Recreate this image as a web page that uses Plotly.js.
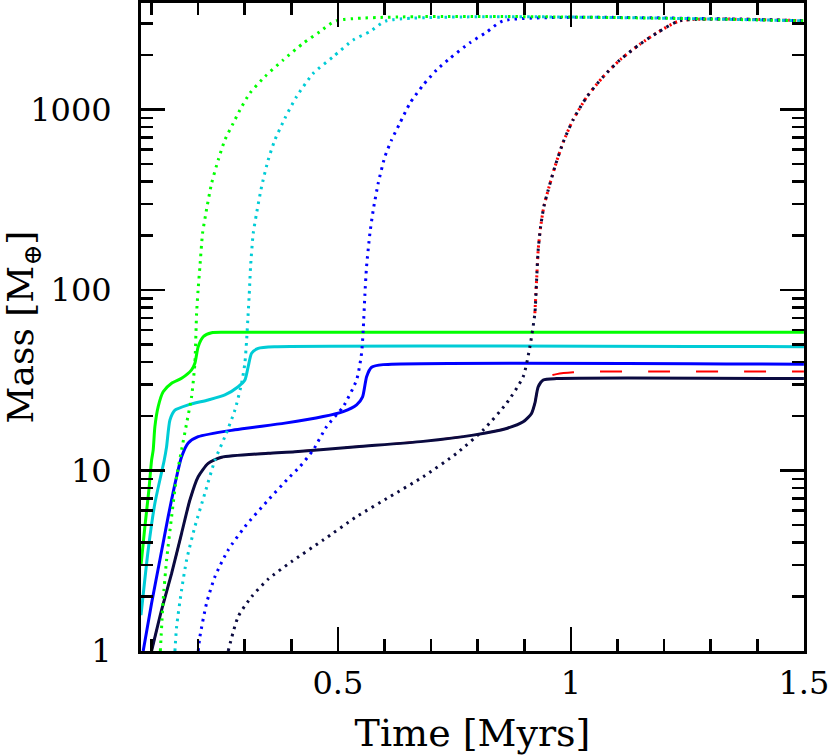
<!DOCTYPE html>
<html>
<head>
<meta charset="utf-8">
<script src="https://cdn.plot.ly/plotly-3.0.1.min.js"></script>
<style>html,body{margin:0;padding:0;background:#fff;}#plot{width:830px;height:755px;}</style>
</head>
<body>
<div id="plot"></div>
<script>
// ---- Data (time in Myr, mass in Earth masses) ----
// Solid lines: core/planet mass
var greenT = [0.0775, 0.0858, 0.0944, 0.1002, 0.1037, 0.1073, 0.1144, 0.1251, 0.1432, 0.1646, 0.186, 0.1931, 0.2002, 0.211, 0.229, 0.2646, 1.5];
var greenM = [2.99, 4.88, 7.8, 11.4, 13.0, 17.5, 22.6, 27.3, 30.4, 32.4, 36.1, 39.3, 48.5, 55.1, 58.0, 58.3, 58.3];

var cyanT = [0.0775, 0.0929, 0.1073, 0.1273, 0.1324, 0.1396, 0.1503, 0.1788, 0.2217, 0.2575, 0.286, 0.3004, 0.3075, 0.3148, 0.329, 0.3648, 1.5];
var cyanM = [1.58, 3.63, 6.58, 11.4, 13.55, 19.05, 21.6, 23.1, 24.6, 26.2, 29.1, 31.7, 37.6, 44.6, 47.5, 48.5, 48.5];

var blueT = [0.0822, 0.1002, 0.118, 0.1358, 0.1539, 0.1646, 0.1788, 0.2002, 0.279, 0.3863, 0.4685, 0.5114, 0.5401, 0.553, 0.5616, 0.5723, 0.5972, 1.5];
var blueM = [1.0, 1.84, 3.19, 5.55, 9.24, 11.9, 14.2, 15.4, 16.8, 18.3, 19.9, 21.2, 23.1, 25.6, 33.1, 37.3, 38.6, 38.8];

var navyT = [0.1002, 0.1217, 0.1432, 0.1646, 0.1824, 0.2002, 0.2217, 0.2504, 0.3504, 0.4077, 0.5401, 0.683, 0.7904, 0.862, 0.8976, 0.9155, 0.9227, 0.9298, 0.9406, 0.9693, 1.5];
var navyM = [1.0, 1.69, 2.69, 4.49, 6.86, 9.24, 10.96, 11.83, 12.45, 12.7, 13.55, 14.5, 15.7, 17.1, 18.6, 20.7, 23.6, 29.1, 31.7, 32.3, 32.3];

var redT = [0.1002, 0.1217, 0.1432, 0.1646, 0.1824, 0.2002, 0.2217, 0.2504, 0.3504, 0.4077, 0.5401, 0.683, 0.7904, 0.862, 0.8976, 0.9155, 0.9227, 0.9298, 0.9406, 0.9693, 1.005, 1.06, 1.5];
var redM = [1.0, 1.69, 2.69, 4.49, 6.86, 9.24, 10.96, 11.83, 12.45, 12.7, 13.55, 14.5, 15.7, 17.1, 18.6, 20.7, 23.6, 29.1, 32.6, 34.2, 35.0, 35.3, 35.4];

// Dotted lines: total mass
var greenDotT = [0.119, 0.1251, 0.1324, 0.1432, 0.1539, 0.1646, 0.1753, 0.186, 0.1931, 0.1968, 0.2, 0.2039, 0.2096, 0.2167, 0.229, 0.2432, 0.2575, 0.2754, 0.2897, 0.311, 0.3433, 0.3826, 0.4255, 0.4614, 0.497, 1.5];
var greenDotM = [1.0, 1.92, 3.19, 5.55, 9.24, 13.0, 18.2, 25.6, 39.3, 74.3, 100, 134.6, 206, 266, 390, 525, 678, 839, 993, 1230, 1521, 1880, 2327, 2700, 3100, 3100];

var cyanDotT = [0.1503, 0.1539, 0.1646, 0.1753, 0.1931, 0.2146, 0.2361, 0.2575, 0.279, 0.2933, 0.3004, 0.304, 0.3075, 0.3097, 0.3112, 0.3126, 0.3183, 0.3255, 0.3362, 0.3504, 0.3648, 0.3863, 0.4113, 0.447, 0.49, 0.5328, 0.5687, 0.6045, 1.5];
var cyanDotM = [1.0, 1.36, 2.18, 3.19, 4.88, 7.48, 11.4, 15.4, 21.6, 30.4, 39.3, 52, 74.3, 93.8, 113.6, 134.6, 206, 266, 373, 525, 678, 894, 1178, 1585, 1962, 2427, 2700, 3100, 3100];

var blueDotT = [0.2003, 0.2039, 0.2182, 0.2361, 0.2646, 0.3004, 0.3504, 0.397, 0.4185, 0.447, 0.4758, 0.5114, 0.5401, 0.5508, 0.5543, 0.5579, 0.5615, 0.5687, 0.5758, 0.5865, 0.6009, 0.6152, 0.633, 0.6545, 0.683, 0.7118, 0.7403, 0.7833, 0.819, 0.8547, 1.5];
var blueDotM = [1.0, 1.2, 1.84, 2.58, 3.63, 4.88, 6.86, 9.24, 10.5, 13.0, 17.5, 22.6, 31.7, 44.6, 60, 93.8, 134.6, 206, 277, 390, 548, 678, 840, 1082, 1367, 1656, 1921, 2344, 2680, 3100, 3100];

var navyDotT = [0.2646, 0.286, 0.3148, 0.3504, 0.4, 0.4685, 0.5401, 0.6116, 0.683, 0.7547, 0.8118, 0.862, 0.8976, 0.912, 0.9227, 0.9264, 0.9298, 0.935, 0.942, 0.9513, 0.9657, 0.9835, 1.005, 1.0337, 1.0693, 1.105, 1.148, 1.187, 1.234, 1.5];
var navyDotM = [1.0, 1.55, 2.0, 2.5, 3.12, 4.12, 5.55, 7.16, 9.24, 12.45, 16.76, 23.6, 33.1, 48.5, 74.3, 113.6, 166.6, 224, 290, 358, 482, 660, 880, 1170, 1520, 1880, 2300, 2680, 3100, 3100];

var redDotT = [0.9227, 0.9264, 0.9298, 0.935, 0.942, 0.9513, 0.9657, 0.9835, 1.005, 1.0337, 1.0693, 1.105, 1.148, 1.187, 1.234, 1.5];
var redDotM = [74.3, 113.6, 166.6, 224, 290, 358, 482, 660, 880, 1170, 1520, 1880, 2300, 2680, 3100, 3100];

// Axis ticks
var xTickVals = [0.5, 1, 1.5];
var xTickText = ['0.5', '1', '1.5'];
var xMinorVals = [0.1, 0.2, 0.3, 0.4, 0.6, 0.7, 0.8, 0.9, 1.1, 1.2, 1.3, 1.4];
var yTickVals = [1, 10, 100, 1000];
var yTickText = ['1', '10', '100', '1000'];
var yMinorVals = [2,3,4,5,6,7,8,9,20,30,40,50,60,70,80,90,200,300,400,500,600,700,800,900,2000,3000];

// ---- Styles ----
var C_GREEN = '#00ff00', C_CYAN = '#00ccd6', C_BLUE = '#0000ff', C_NAVY = '#0a0a40', C_RED = '#ff0000';
var SOLID_W = 3, DOT_W = 3, DOT_DASH = '2.5px,5px';

function tr(x, y, color, width, dash) {
  return {x: x, y: y, type: 'scatter', mode: 'lines', hoverinfo: 'skip', cliponaxis: true,
          line: {color: color, width: width, dash: dash, shape: 'spline', smoothing: 0.6}};
}

var traces = [
  tr(redT, redM, C_RED, 2, '22px,26px'),
  tr(greenT, greenM, C_GREEN, SOLID_W, 'solid'),
  tr(cyanT, cyanM, C_CYAN, SOLID_W, 'solid'),
  tr(blueT, blueM, C_BLUE, SOLID_W, 'solid'),
  tr(navyT, navyM, C_NAVY, SOLID_W, 'solid'),
  tr(redDotT, redDotM, C_RED, DOT_W, '2px,4px'),
  tr(navyDotT, navyDotM, C_NAVY, DOT_W, DOT_DASH),
  tr(blueDotT, blueDotM, C_BLUE, DOT_W, DOT_DASH),
  tr(cyanDotT, cyanDotM, C_CYAN, DOT_W, DOT_DASH),
  tr(greenDotT, greenDotM, C_GREEN, DOT_W, DOT_DASH)
];

var FONT = 'DejaVu Serif, Liberation Serif, serif';

var layout = {
  width: 830, height: 755,
  margin: {l: 141, r: 26, t: 3, b: 104, pad: 0},
  paper_bgcolor: '#ffffff', plot_bgcolor: '#ffffff',
  showlegend: false,
  font: {family: FONT, color: '#000', size: 32},
  xaxis: {
    type: 'linear', range: [0.0775, 1.5002],
    tickmode: 'array', tickvals: xTickVals, ticktext: xTickText,
    ticks: 'inside', ticklen: 24, tickwidth: 2.5, tickcolor: '#000',
    minor: {tickmode: 'array', tickvals: xMinorVals, ticks: 'inside', ticklen: 12, tickwidth: 2.5, tickcolor: '#000', showgrid: false},
    showline: true, linewidth: 3, linecolor: '#000', mirror: 'allticks',
    showgrid: false, zeroline: false,
    tickfont: {family: FONT, size: 32, color: '#000'},
    ticklabelstandoff: 2,
    title: {text: 'Time [Myrs]', font: {family: FONT, size: 38, color: '#000'}, standoff: 22}
  },
  yaxis: {
    type: 'log', range: [0, 3.59],
    tickmode: 'array', tickvals: yTickVals, ticktext: yTickText,
    ticks: 'inside', ticklen: 24, tickwidth: 2.5, tickcolor: '#000',
    minor: {tickmode: 'array', tickvals: yMinorVals, ticks: 'inside', ticklen: 12, tickwidth: 2.5, tickcolor: '#000', showgrid: false},
    showline: true, linewidth: 3, linecolor: '#000', mirror: 'allticks',
    showgrid: false, zeroline: false,
    tickfont: {family: FONT, size: 32, color: '#000'},
    ticklabelstandoff: 20,
    title: {text: 'Mass [M<sub>⊕</sub>]', font: {family: FONT, size: 36, color: '#000'}, standoff: 14}
  }
};

Plotly.newPlot('plot', traces, layout, {staticPlot: true, displayModeBar: false});
</script>
</body>
</html>
